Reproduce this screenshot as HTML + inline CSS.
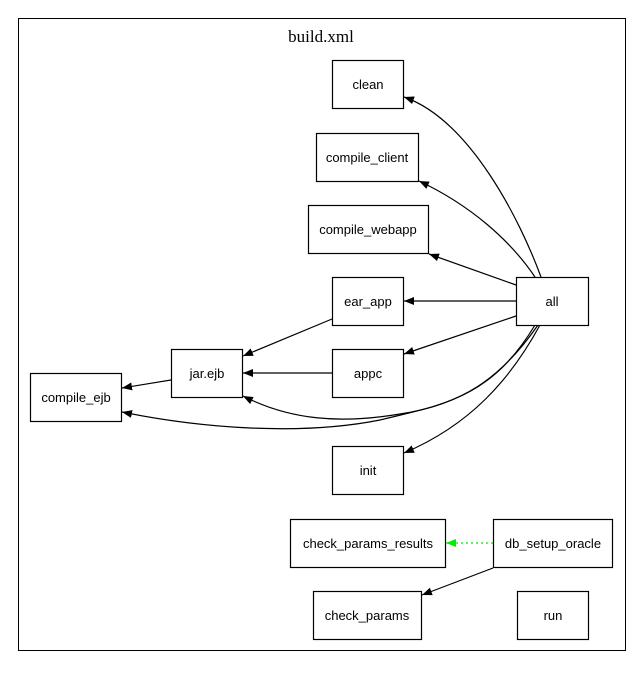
<!DOCTYPE html>
<html><head><style>body{margin:0;background:#fff}svg{display:block}text{font-family:"Liberation Sans",sans-serif;font-size:13px}</style></head><body>
<svg width="642" height="679" viewBox="0 0 642 679" xmlns="http://www.w3.org/2000/svg">
<defs>
<marker id="a" markerWidth="10" markerHeight="8" refX="10" refY="4" orient="auto" markerUnits="userSpaceOnUse"><path d="M0,0 L10,4 L0,8z" fill="#000"/></marker>
<marker id="g" markerWidth="10" markerHeight="8" refX="10" refY="4" orient="auto" markerUnits="userSpaceOnUse"><path d="M0,0 L10,4 L0,8z" fill="#00ee00"/></marker>
</defs>
<rect x="18.5" y="18.5" width="607" height="632" fill="none" stroke="#000"/>
<text x="321" y="42" text-anchor="middle" style="font-family:'Liberation Serif',serif;font-size:17px">build.xml</text>
<g fill="none" stroke="#000" stroke-width="1.2">
<path d="M541,277 C520,220 470,120 404,97" marker-end="url(#a)"/>
<path d="M535,277 C510,240 470,205 419,181" marker-end="url(#a)"/>
<path d="M516,285 L429,254" marker-end="url(#a)"/>
<path d="M516,301 L404,301" marker-end="url(#a)"/>
<path d="M516,316 L404,354" marker-end="url(#a)"/>
<path d="M538,325 C500,380 460,405 400,414 C340,424 290,420 243,396" marker-end="url(#a)"/>
<path d="M535,325 C490,400 440,405 380,420 C300,436 200,428 122,412" marker-end="url(#a)"/>
<path d="M540,325 C510,380 470,425 404,453" marker-end="url(#a)"/>
<path d="M332,319 L243,356" marker-end="url(#a)"/>
<path d="M332,373 L243,373" marker-end="url(#a)"/>
<path d="M171,380 L122,388" marker-end="url(#a)"/>
<path d="M493,568 L422,595" marker-end="url(#a)"/>
</g>
<path d="M493,543 L446,543" stroke="#00ee00" stroke-width="1.2" stroke-dasharray="2,3" fill="none" marker-end="url(#g)"/>
<g fill="#fff" stroke="#000" stroke-width="1.2">
<rect x="332.5" y="60.5" width="71" height="48"/>
<rect x="316.5" y="133.5" width="102" height="48"/>
<rect x="308.5" y="205.5" width="120" height="48"/>
<rect x="332.5" y="277.5" width="71" height="48"/>
<rect x="516.5" y="277.5" width="72" height="48"/>
<rect x="171.5" y="349.5" width="71" height="48"/>
<rect x="332.5" y="349.5" width="71" height="48"/>
<rect x="30.5" y="373.5" width="91" height="48"/>
<rect x="332.5" y="446.5" width="71" height="48"/>
<rect x="290.5" y="519.5" width="155" height="48"/>
<rect x="493.5" y="519.5" width="119" height="48"/>
<rect x="313.5" y="591.5" width="108" height="48"/>
<rect x="517.5" y="591.5" width="71" height="48"/>
</g>
<g text-anchor="middle">
<text x="368" y="89">clean</text>
<text x="367" y="162">compile_client</text>
<text x="368" y="234">compile_webapp</text>
<text x="368" y="306">ear_app</text>
<text x="552" y="306">all</text>
<text x="207" y="378">jar.ejb</text>
<text x="368" y="378">appc</text>
<text x="76" y="402">compile_ejb</text>
<text x="368" y="475">init</text>
<text x="368" y="548">check_params_results</text>
<text x="553" y="548">db_setup_oracle</text>
<text x="367" y="620">check_params</text>
<text x="553" y="620">run</text>
</g>
</svg>
</body></html>
